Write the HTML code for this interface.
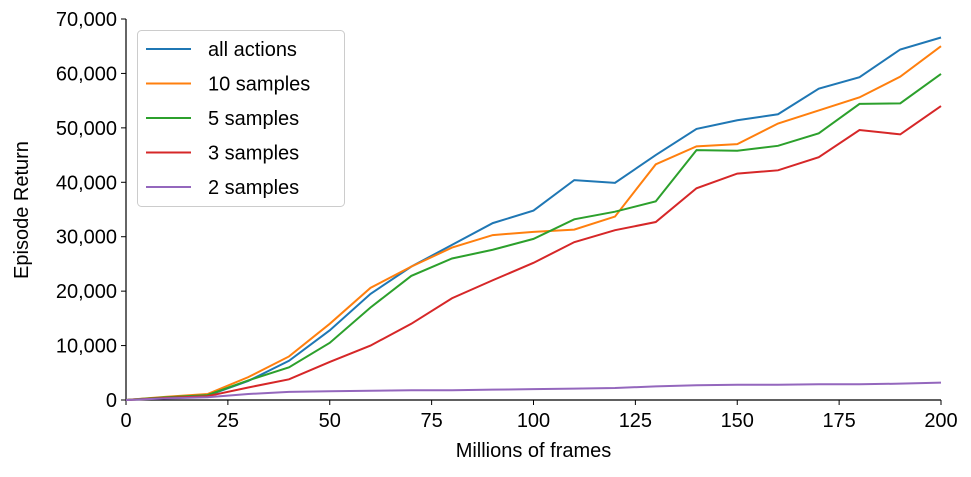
<!DOCTYPE html>
<html><head><meta charset="utf-8"><style>
body{margin:0;background:#fff;}
svg text{font-family:"Liberation Sans","DejaVu Sans",sans-serif;fill:#000;}
</style></head><body>
<svg id="chart" width="971" height="472" xmlns="http://www.w3.org/2000/svg">
<g id="axes"></g><g id="series"></g><g id="legend"></g>
</svg>
<script>
const xValues=[0,10,20,30,40,50,60,70,80,90,100,110,120,130,140,150,160,170,180,190,200];
const allActions=[0,500,800,3500,7200,12800,19500,24500,28500,32500,34800,40400,39900,45000,49800,51400,52500,57200,59300,64400,66600];
const samples10=[0,600,1100,4200,8000,14000,20600,24500,28000,30300,30900,31300,33700,43300,46600,47000,50800,53200,55600,59400,65000];
const samples5=[0,500,900,3600,6000,10500,17000,22800,26000,27600,29600,33200,34600,36500,45900,45800,46700,49000,54400,54500,59900];
const samples3=[0,400,700,2300,3800,7000,10000,14000,18700,22000,25200,29000,31200,32700,38900,41600,42200,44600,49600,48800,54000];
const samples2=[0,300,500,1100,1500,1600,1700,1800,1800,1900,2000,2100,2200,2500,2700,2800,2800,2900,2900,3000,3200];
const seriesNames=["all actions","10 samples","5 samples","3 samples","2 samples"];
const xTicks=[0,25,50,75,100,125,150,175,200];
const yTicks=[0,10000,20000,30000,40000,50000,60000,70000];
const colors=["#1f77b4","#ff7f0e","#2ca02c","#d62728","#9467bd"];
const X0=126,X1=941,Y0=400,Y1=19;
const sx=v=>X0+(v-0)/(200-0)*(X1-X0);
const sy=v=>Y0-(v-0)/(70000-0)*(Y0-Y1);
const NS="http://www.w3.org/2000/svg";
function mk(tag,attrs,parent){const e=document.createElementNS(NS,tag);for(const k in attrs)e.setAttribute(k,attrs[k]);parent.appendChild(e);return e;}
const axes=document.getElementById('axes');
let a=mk('line',{x1:X0,y1:Y0,x2:X1,y2:Y0,stroke:'#000','stroke-width':1.2},axes);


a=mk('line',{x1:X0,y1:Y0,x2:X0,y2:Y1,stroke:'#000','stroke-width':1.2},axes);


xTicks.forEach(t=>{
  mk('line',{x1:sx(t),y1:Y0,x2:sx(t),y2:Y0+5,stroke:'#000'},axes);
  const tx=mk('text',{x:sx(t),y:Y0+27,'text-anchor':'middle','font-size':20},axes);
  tx.textContent=t;
  
  
});
yTicks.forEach(t=>{
  mk('line',{x1:X0-5,y1:sy(t),x2:X0,y2:sy(t),stroke:'#000'},axes);
  const tx=mk('text',{x:X0-9,y:sy(t)+7,'text-anchor':'end','font-size':20},axes);
  tx.textContent=t.toLocaleString('en-US');
  
  
});
let t=mk('text',{x:(X0+X1)/2,y:457,'text-anchor':'middle','font-size':20},axes);
t.textContent='Millions of frames';


t=mk('text',{x:28,y:210,'text-anchor':'middle','font-size':20,transform:'rotate(-90 28 210)'},axes);
t.textContent='Episode Return';


const data=[allActions,samples10,samples5,samples3,samples2];
const sg=document.getElementById('series');
data.forEach((d,i)=>{
  const p=mk('polyline',{points:d.map((v,j)=>sx(xValues[j])+','+sy(v)).join(' '),fill:'none',stroke:colors[i],'stroke-width':2},sg);
  
  
});
const lg=document.getElementById('legend');
const box=mk('rect',{x:137.5,y:30.5,width:207,height:176,rx:4,fill:'#fff','fill-opacity':0.8,stroke:'#ccc'},lg);


seriesNames.forEach((n,i)=>{
  const y=49+i*34.5;
  mk('line',{x1:146,y1:y,x2:191,y2:y,stroke:colors[i],'stroke-width':2},lg);
  const tx=mk('text',{x:208,y:y+7,'font-size':20},lg);
  tx.textContent=n;
  
  
});
</script>
</body></html>
